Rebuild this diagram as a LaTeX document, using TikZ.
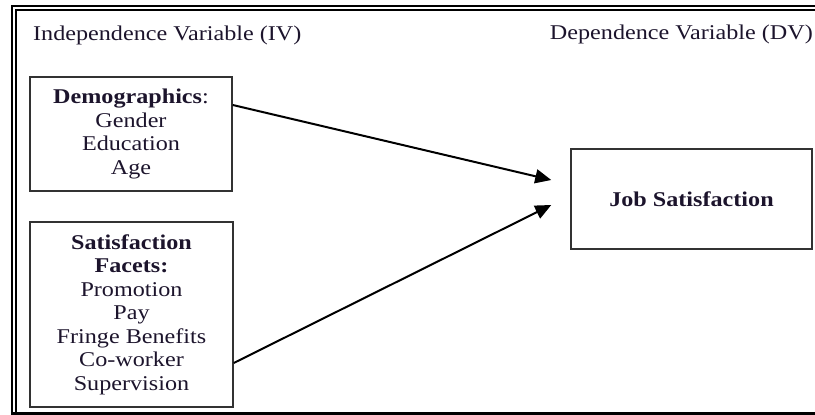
\documentclass[tikz,border=0pt]{standalone}
\usepackage{fontspec}
\setmainfont{Liberation Serif}[FakeStretch=1.15]
\usetikzlibrary{arrows.meta}
\definecolor{txt}{RGB}{28,20,44}
\definecolor{boxline}{RGB}{50,50,50}
\tikzset{
  varbox/.style={draw=boxline, line width=1.5pt, align=center, inner sep=0pt,
    font=\fontsize{21}{23.5}\selectfont, text=txt},
  head/.style={font=\fontsize{21}{23.5}\selectfont, text=txt, inner sep=0pt},
  link/.style={line width=2pt, -{Triangle[length=16pt,width=14pt]}}
}
\begin{document}
\begin{tikzpicture}[x=1pt,y=1pt]
\useasboundingbox (0,0) rectangle (815,415);
% frame
\draw[line width=2.3pt] (12.2,1.7) -- (12.2,409.2) -- (815,409.2);
\draw[line width=1.3pt] (16,1.7) -- (16,405) -- (815,405);
\draw[line width=2.7pt] (11,1.7) -- (815,1.7);
% headings
\node[head, anchor=base west] (iv) at (33,374) {Independence Variable (IV)};
\node[head, anchor=base east] (dv) at (813,375) {Dependence Variable (DV)};
% boxes
\node[varbox, minimum width=202pt, minimum height=114pt] (demo) at (131,281)
  {\textbf{Demographics}:\\Gender\\Education\\Age};
\node[varbox, minimum width=203pt, minimum height=185pt] (sat) at (131.5,100.5)
  {\textbf{Satisfaction}\\\textbf{Facets:}\\Promotion\\Pay\\Fringe Benefits\\Co-worker\\Supervision};
\node[varbox, minimum width=241pt, minimum height=100pt] (job) at (691.5,216)
  {\textbf{Job Satisfaction}};
% connectors
\draw[link] ([yshift=29pt]demo.east) -- ([xshift=-19pt,yshift=19pt]job.west);
\draw[link] ([yshift=-48.5pt]sat.east) -- ([xshift=-19pt,yshift=-6pt]job.west);
\end{tikzpicture}
\end{document}
